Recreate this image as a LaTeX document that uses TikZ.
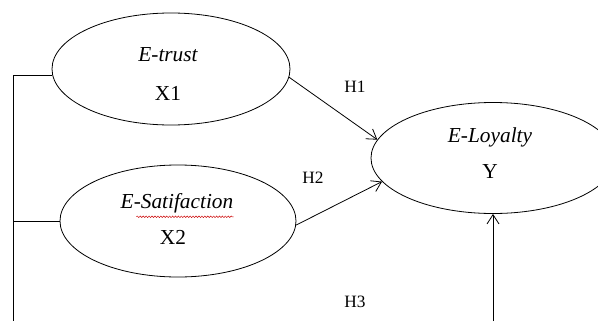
\documentclass[tikz,border=0pt]{standalone}
\usepackage{fontspec}
\setmainfont{Liberation Serif}
\usetikzlibrary{shapes.geometric,arrows.meta,decorations.pathmorphing,calc}
\begin{document}
\begin{tikzpicture}[x=0.75pt,y=-0.75pt,
  construct/.style={draw,ellipse,line width=0.6pt,inner sep=0pt},
  big/.style={font=\fontsize{16}{19}\selectfont,inner sep=0pt},
  hyp/.style={font=\fontsize{13}{15}\selectfont,inner sep=0pt},
  link/.style={line width=0.6pt},
  path/.style={line width=0.6pt,-{Straight Barb[length=7pt,width=9pt,line width=0.6pt]}}]
\useasboundingbox (0,0) rectangle (598,321);
\clip (0,0) rectangle (598,321);
\fill[white] (0,0) rectangle (598,321);

\node[construct,minimum width=178.5pt,minimum height=84pt] (t) at (171,69) {};
\node[construct,minimum width=177pt,minimum height=84pt] (s) at (178,221) {};
\node[construct,minimum width=183pt,minimum height=83.25pt] (l) at (493,158) {};

\node[big] (tname) at (168,55) {\itshape E-trust};
\node[big] (tvar) at (168,93) {X1};
\node[big] (sname) at (177,203) {\itshape E-Satifaction};
\node[big] (svar) at (173,237) {X2};
\node[big] (lname) at (490,137) {\itshape E-Loyalty};
\node[big] (lvar) at (490,172) {Y};

\draw[red!80!black,line width=0.35pt,decorate,decoration={snake,amplitude=0.6pt,segment length=2.2pt}]
  ([xshift=12pt,yshift=-2.8pt]sname.south west) -- ([yshift=-2.8pt]sname.south east);

\node[hyp] (h1) at (355,87) {H1};
\node[hyp] (h2) at (313,178) {H2};
\node[hyp] (h3) at (355,302) {H3};

\coordinate (tjoin) at ($(t.west)+(0.6,6)$);
\coordinate (bustop) at (tjoin -| 13,0);
\coordinate (busbot) at (13,321);
\coordinate (ybot) at (493,321);

\draw[link] (tjoin) -- (bustop) -- (busbot);
\draw[link] (s.west) -- (s.west -| bustop);

\draw[path] (t.-4) -- (l.171);
\draw[path] (s.-2) -- (l.192);
\draw[path] (ybot) -- (l.south);
\end{tikzpicture}
\end{document}
